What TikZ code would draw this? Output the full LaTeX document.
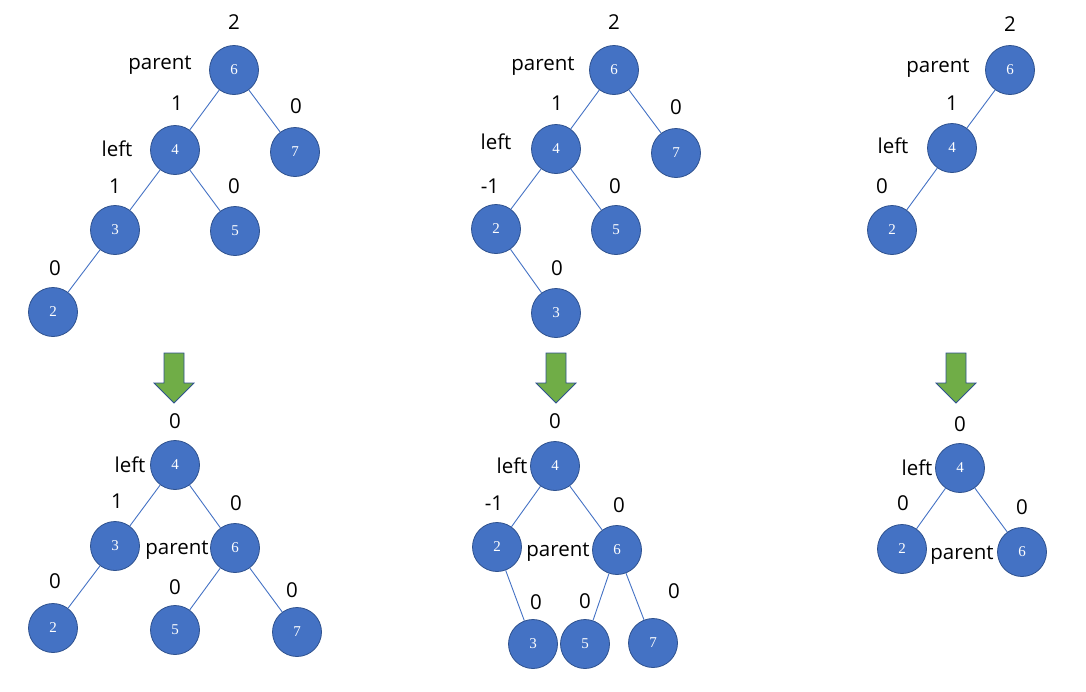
\documentclass[tikz,border=0pt]{standalone}
\usepackage{fontspec}
\setmainfont{Open Sans}
\newfontfamily\numfont{Liberation Serif}
\definecolor{nodefill}{HTML}{4472C4}
\definecolor{nodeline}{HTML}{2F528F}
\definecolor{edgecol}{HTML}{4472C4}
\definecolor{arrowfill}{HTML}{70AD47}
\definecolor{arrowline}{HTML}{2F528F}
\tikzset{
  tn/.style={circle, fill=nodefill, draw=nodeline, line width=0.8pt, minimum size=49pt, inner sep=0pt, text=white, font=\numfont\fontsize{15}{15}\selectfont},
  lb/.style={inner sep=0pt, font=\fontsize{20.5}{20.5}\selectfont},
  ed/.style={draw=edgecol, line width=0.9pt},
  downarrow/.style={fill=arrowfill, draw=arrowline, line width=0.8pt, line join=miter}
}
\newcommand{\greenarrow}[2]{%
  \draw[downarrow] (#1-10,#2) -- (#1+10,#2) -- (#1+10,#2+30) -- (#1+20,#2+30) -- (#1,#2+50) -- (#1-20,#2+30) -- (#1-10,#2+30) -- cycle;}
\begin{document}
\begin{tikzpicture}[x=1pt,y=-1pt]
\useasboundingbox (0,0) rectangle (1086,691);
% ---------- Tree 1 top ----------
\node[tn] (a6) at (234,70) {6};
\node[tn] (a4) at (175,150) {4};
\node[tn] (a7) at (295,152) {7};
\node[tn] (a3) at (115,230) {3};
\node[tn] (a5) at (235,231) {5};
\node[tn] (a2) at (53,312) {2};
\draw[ed] (a6) -- (a4); \draw[ed] (a6) -- (a7);
\draw[ed] (a4) -- (a3); \draw[ed] (a4) -- (a5);
\draw[ed] (a3) -- (a2);
\node[lb] (la1) at (234,22) {2};
\node[lb] (la2) at (160,65) {parent};
\node[lb] (la3) at (177,103) {1};
\node[lb] (la4) at (296,106) {0};
\node[lb] (la5) at (117,149) {left};
\node[lb] (la6) at (115,186) {1};
\node[lb] (la7) at (234,186) {0};
\node[lb] (la8) at (55,268) {0};
\greenarrow{174}{353}
% ---------- Tree 1 bottom ----------
\node[tn] (b4) at (175,465) {4};
\node[tn] (b3) at (115,546) {3};
\node[tn] (b6) at (235,548) {6};
\node[tn] (b2) at (53,628) {2};
\node[tn] (b5) at (175,630) {5};
\node[tn] (b7) at (297,632) {7};
\draw[ed] (b4) -- (b3); \draw[ed] (b4) -- (b6);
\draw[ed] (b3) -- (b2); \draw[ed] (b6) -- (b5); \draw[ed] (b6) -- (b7);
\node[lb] (lb1) at (175,421) {0};
\node[lb] (lb2) at (130,465) {left};
\node[lb] (lb3) at (117,501) {1};
\node[lb] (lb4) at (236,503) {0};
\node[lb] (lb5) at (177,550) {parent};
\node[lb] (lb6) at (55,581) {0};
\node[lb] (lb7) at (175,587) {0};
\node[lb] (lb8) at (292,590) {0};
% ---------- Tree 2 top ----------
\node[tn] (c6) at (614,70) {6};
\node[tn] (c4) at (556,149) {4};
\node[tn] (c7) at (676,153) {7};
\node[tn] (c2) at (496,229) {2};
\node[tn] (c5) at (616,230) {5};
\node[tn] (c3) at (556,313) {3};
\draw[ed] (c6) -- (c4); \draw[ed] (c6) -- (c7);
\draw[ed] (c4) -- (c2); \draw[ed] (c4) -- (c5);
\draw[ed] (c2) -- (c3);
\node[lb] (lc1) at (614,22) {2};
\node[lb] (lc2) at (543,66) {parent};
\node[lb] (lc3) at (557,103) {1};
\node[lb] (lc4) at (676,107) {0};
\node[lb] (lc5) at (496,142) {left};
\node[lb] (lc6) at (490,186) {-1};
\node[lb] (lc7) at (615,186) {0};
\node[lb] (lc8) at (557,268) {0};
\greenarrow{556}{353}
% ---------- Tree 2 bottom ----------
\node[tn] (d4) at (555,466) {4};
\node[tn] (d2) at (497,547) {2};
\node[tn] (d6) at (617,550) {6};
\node[tn] (d3) at (533,644) {3};
\node[tn] (d5) at (585,644) {5};
\node[tn] (d7) at (653,643) {7};
\draw[ed] (d4) -- (d2); \draw[ed] (d4) -- (d6);
\draw[ed] (d2) -- (d3); \draw[ed] (d6) -- (d5); \draw[ed] (d6) -- (d7);
\node[lb] (ld1) at (555,421) {0};
\node[lb] (ld2) at (512,466) {left};
\node[lb] (ld3) at (494,503) {-1};
\node[lb] (ld4) at (619,505) {0};
\node[lb] (ld5) at (558,552) {parent};
\node[lb] (ld6) at (536,602) {0};
\node[lb] (ld7) at (585,601) {0};
\node[lb] (ld8) at (674,591) {0};
% ---------- Tree 3 top ----------
\node[tn] (e6) at (1010,70) {6};
\node[tn] (e4) at (952,148) {4};
\node[tn] (e2) at (892,230) {2};
\draw[ed] (e6) -- (e4); \draw[ed] (e4) -- (e2);
\node[lb] (le1) at (1010,24) {2};
\node[lb] (le2) at (938,68) {parent};
\node[lb] (le3) at (952,103) {1};
\node[lb] (le4) at (893,146) {left};
\node[lb] (le5) at (882,186) {0};
\greenarrow{956}{353}
% ---------- Tree 3 bottom ----------
\node[tn] (f4) at (960,468) {4};
\node[tn] (f2) at (902,549) {2};
\node[tn] (f6) at (1022,552) {6};
\draw[ed] (f4) -- (f2); \draw[ed] (f4) -- (f6);
\node[lb] (lf1) at (960,424) {0};
\node[lb] (lf2) at (917,468) {left};
\node[lb] (lf3) at (903,503) {0};
\node[lb] (lf4) at (1022,507) {0};
\node[lb] (lf5) at (962,555) {parent};
\end{tikzpicture}
\end{document}
